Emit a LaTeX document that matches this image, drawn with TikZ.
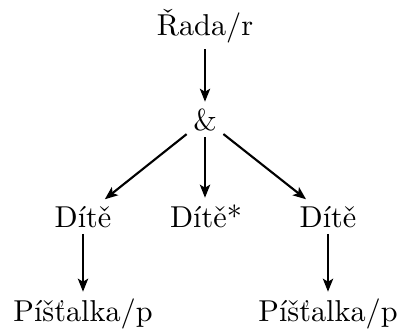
\documentclass[tikz,border=0pt]{standalone}
\usepackage{fontspec}
\usetikzlibrary{arrows.meta}
\begin{document}
\begin{tikzpicture}[x=0.331pt,y=-0.331pt,
  lbl/.style={anchor=base,inner sep=2pt,font=\normalsize},
  arr/.style={-{Stealth[length=4.3pt,width=3.4pt,inset=1pt]},line width=0.7pt}]
\useasboundingbox (0,0) rectangle (399,333);
\node[lbl] (r) at (205,35) {Řada/r};
\node[lbl] (amp) at (205,130) {\&};
\node[lbl] (d1) at (83,227) {Dítě};
\node[lbl] (d2) at (206,227) {Dítě*};
\node[lbl] (d3) at (328,227) {Dítě};
\node[lbl] (p1) at (83,321) {Píšťalka/p};
\node[lbl] (p3) at (328,321) {Píšťalka/p};
\draw[arr] (r) -- (amp);
\draw[arr] (amp) -- (amp |- d2.north);
\draw[arr] (amp) -- (d1);
\draw[arr] (amp) -- (d3);
\draw[arr] (d1) -- (p1);
\draw[arr] (d3) -- (p3);
\end{tikzpicture}
\end{document}
